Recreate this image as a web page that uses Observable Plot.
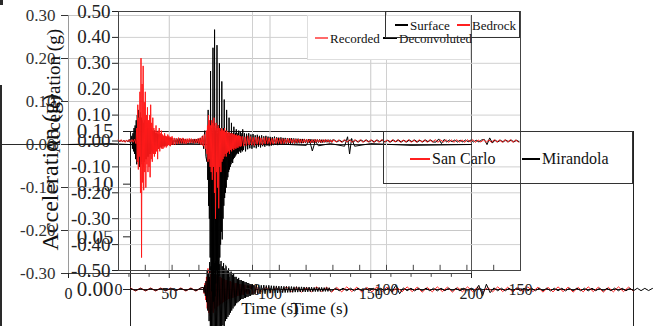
<!DOCTYPE html>
<html><head><meta charset="utf-8">
<script src="https://cdn.jsdelivr.net/npm/d3@7"></script>
<script src="https://cdn.jsdelivr.net/npm/@observablehq/plot@0.6"></script>
<style>
body{margin:0;background:#fff;}
#wrap{position:relative;width:653px;height:326px;overflow:hidden;background:#fff;font-family:'Liberation Serif','Times New Roman',serif;}
#wrap svg{position:absolute;left:0;top:0;}
#wrap svg text{font-family:'Liberation Serif','Times New Roman',serif !important;}
.box{position:absolute;box-sizing:border-box;}
.sw{position:absolute;height:1.6px;}
.lt{position:absolute;white-space:nowrap;line-height:1;transform:translateY(-50%);color:#111;font-family:'Liberation Serif','Times New Roman',serif;}
.deco{position:absolute;background:#2a2a2a;}
</style></head><body><div id="wrap"></div>
<script>
// ---------- tick labels ----------
const aYTicks = [-0.3, -0.2, -0.1, 0, 0.1, 0.2, 0.3];
const aXTicks = [0, 50, 100, 150, 200];
const aXMinor = [10, 20, 30, 40, 60, 70, 80, 90, 110, 120, 130, 140, 160, 170, 180, 190];
const aXGrid = [50, 100, 150];
const bYTicks = [-0.5, -0.4, -0.3, -0.2, -0.1, 0, 0.1, 0.2, 0.3, 0.4, 0.5];
const bXTicks = [0, 50, 100, 150];
const bXMinor = [10, 20, 30, 40, 50, 60, 70, 80, 90, 100, 110, 120, 130, 140];
const bXGrid = [50, 100];
const cYTicks = [0, 0.05, 0.1, 0.15];

// ---------- legend categories ----------
const recLabels = ["Recorded", "Deconvoluted"];
const recColors = ["#ff6a6a", "#000"];
const surfLabels = ["Surface", "Bedrock"];
const surfColors = ["#000", "#ff2020"];
const siteLabels = ["San Carlo", "Mirandola"];
const siteColors = ["#ff2020", "#000"];

// ---------- series: sampled acceleration (g); each segment = start time, sample step, read values ----------
// Chart A – Deconvoluted (explicit time, value pairs)
const deconvoluted = [[0,0],[20,0.002],[40,-0.002],[60,0.002],[80,-0.002],[100,0.002],[118,-0.002],[119.5,0.012],[121,-0.015],[122.5,0.008],[124,-0.003],[130,0.002],[137,-0.004],[138.5,0.018],[139.5,-0.022],[140.5,0.014],[142,-0.004],[150,0.002],[170,-0.002],[200,0]];

// Chart B – Bedrock (red)
const bedrockPre   = [0.004,-0.003,0.005,-0.004,0.003,-0.005,0.004,-0.003,0.005,-0.004,0.006,-0.005,0.007,-0.01];
const bedrockEv1   = [0.05,-0.08,0.14,-0.11,0.09,-0.06,0.19,-0.2,0.32,-0.45,0.22,-0.16,0.29,-0.19,0.15,-0.12,0.19,-0.18,0.1,-0.09,0.13,-0.12,0.08,-0.1,0.1,-0.14,0.14,-0.07,0.07,-0.08,0.09,-0.05,0.05,-0.06,0.04,-0.05,0.06,-0.04,0.035,-0.07,0.04,-0.03,0.05,-0.04,0.03,-0.025,0.04,-0.03,0.025,-0.03,0.02,-0.025,0.03,-0.02,0.02,-0.025,0.018,-0.02,0.025,-0.015,0.02,-0.018,0.015,-0.02,0.016,-0.014,0.018];
const bedrockCoda1 = [-0.015,0.012,-0.014,0.01,-0.012,0.013,-0.01,0.011,-0.009,0.012,-0.01,0.008,-0.011,0.009,-0.008,0.01,-0.007,0.009,-0.008,0.007,-0.009,0.008,-0.007,0.009,-0.01,0.012,-0.015,0.018,-0.02,0.025,-0.03];
const bedrockEv2   = [0.04,-0.05,0.06,-0.08,0.1,-0.07,0.08,-0.1,0.06,-0.12,0.08,-0.15,0.07,-0.1,0.09,-0.2,0.06,-0.3,0.07,-0.12,0.05,-0.18,0.06,-0.26,0.05,-0.1,0.04,-0.12,0.05,-0.08,0.045,-0.07,0.04,-0.06,0.05,-0.05,0.035,-0.06,0.04,-0.045,0.03,-0.04,0.035,-0.05,0.03,-0.035,0.028,-0.04,0.03,-0.03,0.025,-0.035,0.027,-0.028,0.022,-0.03,0.025,-0.025,0.02,-0.026,0.022,-0.02,0.02,-0.022,0.018,-0.02];
const bedrockCoda2 = [0.018,-0.02,0.016,-0.018,0.02,-0.015,0.017,-0.016,0.014,-0.018,0.015,-0.013,0.016,-0.014,0.012,-0.015,0.013,-0.012,0.014,-0.011,0.012,-0.013,0.01,-0.012,0.011,-0.01,0.012,-0.009,0.01,-0.011,0.009,-0.01,0.008,-0.009,0.01,-0.008,0.009,-0.008,0.007,-0.009,0.008,-0.007,0.008,-0.007,0.006,-0.008,0.007,-0.006,0.007,-0.006,0.006,-0.007,0.005,-0.006,0.006,-0.005,0.006,-0.005,0.005,-0.006,0.005,-0.005,0.006,-0.004,0.005,-0.005,0.004,-0.005];
const bedrockTail  = [0.005,-0.004,0.004,-0.005,0.005,-0.004,0.004,-0.005,0.005,-0.004,0.005,-0.005,0.004,-0.004,0.005,-0.005,0.004,-0.005,0.005,-0.004,0.004,-0.005,0.005,-0.004,0.005,-0.005,0.004,-0.004,0.005,-0.005,0.004,-0.005,0.005,-0.004,0.004,-0.005,0.005,-0.004,0.005,-0.005,0.004,-0.004,0.005,-0.005,0.004,-0.005,0.005,-0.004,0.004,-0.005,0.005,-0.004,0.005,-0.005,0.004,-0.004,0.005,-0.005,0.004,-0.005,0.005,-0.004,0.004,-0.005,0.005,-0.004,0.005,-0.005,0.004,-0.004];

// Chart B – Surface (black)
const surfacePre   = [0.003,-0.003,0.004,-0.003,0.003,-0.004,0.003,-0.004,0.006,-0.01];
const surfaceEv1   = [0.02,-0.03,0.03,-0.04,0.05,-0.05,0.06,-0.07,0.08,-0.09,0.1,-0.08,0.12,-0.1,0.09,-0.1,0.11,-0.08,0.09,-0.09,0.08,-0.1,0.07,-0.08,0.08,-0.07,0.06,-0.07,0.07,-0.06,0.05,-0.06,0.06,-0.05,0.045,-0.05,0.05,-0.04,0.04,-0.045,0.035,-0.04,0.04,-0.035,0.03,-0.035,0.03,-0.03,0.028,-0.03,0.025,-0.028,0.025,-0.022,0.022,-0.025,0.02,-0.02,0.02,-0.018,0.018,-0.02,0.016,-0.017,0.015,-0.016,0.015,-0.014,0.014,-0.015,0.012,-0.013,0.012,-0.012,0.011,-0.012];
const surfaceCoda1 = [0.011,-0.01,0.01,-0.011,0.009,-0.01,0.01,-0.009,0.008,-0.009,0.009,-0.008,0.008,-0.009,0.007,-0.008,0.008,-0.007,0.007,-0.008,0.008,-0.007,0.007,-0.008,0.009,-0.01,0.012,-0.015,0.02,-0.03,0.04,-0.06];
const surfaceEv2   = [-0.08,0.04,-0.15,0.12,-0.25,0.05,-0.3,0.02,-0.45,0.27,-0.5,0.05,-0.58,0.03,-0.55,0.36,-0.62,0.05,-0.5,0.43,-0.6,0.04,-0.55,0.05,-0.5,0.37,-0.58,0.03,-0.48,0.06,-0.52,0.3,-0.45,0.04,-0.4,0.05,-0.35,0.23,-0.38,0.03,-0.3,0.05,-0.25,0.16,-0.22,0.03,-0.2,0.04,-0.18,0.12,-0.15,0.03,-0.14,0.02,-0.12,0.09,-0.11,0.02,-0.1,0.03,-0.09,0.07,-0.08,0.02,-0.085,0.03,-0.07,0.055,-0.065,0.02,-0.06,0.03,-0.055,0.045,-0.05,0.02,-0.045,0.03,-0.05,0.04,-0.04,0.02,-0.04,0.035,-0.045,0.02,-0.035,0.03,-0.04,0.045];
const surfaceCoda2 = [-0.035,0.03,-0.04,0.028,-0.032,0.03,-0.028,0.025,-0.03,0.027,-0.025,0.022,-0.028,0.024,-0.022,0.02,-0.025,0.022,-0.02,0.018,-0.022,0.02,-0.018,0.017,-0.02,0.016,-0.018,0.015,-0.016,0.017,-0.015,0.014,-0.016,0.013,-0.014,0.014,-0.013,0.012,-0.013,0.012,-0.012,0.011,-0.012,0.01,-0.011,0.011,-0.01,0.01,-0.01,0.009,-0.01,0.009,-0.009,0.008,-0.009,0.008,-0.008,0.008,-0.008,0.007,-0.008,0.007,-0.007,0.007,-0.007,0.006,-0.007,0.006,-0.006,0.006,-0.006,0.006,-0.006,0.005,-0.006,0.005,-0.005,0.005,-0.005,0.005,-0.005,0.005,-0.005,0.004];
const surfaceTail  = [0.004,-0.004,0.003,-0.004,0.004,-0.003,0.004,-0.004,0.003,-0.004,0.004,-0.003,0.004,-0.004,0.003,-0.004,0.004,-0.003,0.004,-0.004,0.003,-0.004,0.004,-0.003,0.004,-0.004,0.003,-0.004,0.004,-0.003,0.004,-0.004,0.003,-0.004,0.004,-0.003,0.004,-0.004,-0.004,0.008,-0.01,0.006,-0.004,0.004,-0.003,0.004,-0.004,0.003,-0.004,0.004,-0.003,0.004,-0.004,0.003,-0.004,0.004,0.006,-0.014,0.012,-0.008,0.004,-0.004,0.003,-0.004,0.004,-0.003,0.004,-0.004,0.003,-0.003];

// Chart C – Mirandola (black)
const mirandolaPre  = [0.001,-0.001,0.001,-0.001,0.001,-0.001,0.001,-0.001,0.001,-0.001,0.001,-0.001,0.001,-0.0012,0.0015];
const mirandolaEv   = [0.002,-0.003,0.004,-0.006,0.008,-0.012,0.018,-0.02,0.015,-0.03,0.026,-0.042,0.022,-0.038,0.03,-0.05,0.032,-0.045,0.025,-0.05,0.027,-0.046,0.022,-0.04,0.028,-0.042,0.024,-0.038,0.027,-0.04,0.022,-0.034,0.025,-0.035,0.02,-0.03,0.022,-0.028,0.018,-0.026,0.02,-0.024,0.016,-0.022,0.017,-0.02,0.014,-0.018,0.015,-0.016,0.012,-0.015,0.012,-0.013,0.01,-0.012,0.011,-0.011,0.009,-0.01,0.009,-0.009,0.008,-0.009,0.008,-0.008,0.007,-0.008,0.007,-0.007,0.006,-0.007,0.006,-0.006,0.005,-0.006,0.005,-0.005,0.005,-0.005,0.004];
const mirandolaCoda = [-0.0045,0.005,-0.004,0.0045,-0.0042,0.004,-0.0038,0.0042,-0.004,0.0038,-0.0036,0.004,-0.0035,0.0036,-0.0034,0.0035,-0.0032,0.0034,-0.0033,0.0032,-0.003,0.0032,-0.003,0.003,-0.0029,0.003,-0.0028,0.0029,-0.0027,0.0028,-0.0027,0.0026,-0.0025,0.0027,-0.0025,0.0025,-0.0024,0.0025,-0.0023,0.0024,-0.0023,0.0022,-0.0022,0.0023,-0.0021,0.0022,-0.0021,0.002,-0.002,0.0021,-0.002,0.002,-0.0019,0.002,-0.0019,0.0018,-0.0018,0.0019,-0.0018,0.0017,-0.0017];
const mirandolaTail = [-0.0013,0.0012,-0.0012,0.0013,-0.0012,0.0012,-0.0013,0.0012,-0.0012,0.0013,-0.0012,0.0012,-0.0013,0.0012,-0.0012,0.0013,-0.002,0.004,-0.004,0.0015,-0.0012,0.0012,-0.0013,0.0012,-0.0012,0.0013,-0.0012,0.0012,-0.0013,0.0012,-0.0012,0.0013,-0.0012,0.0012,-0.0013,0.0012,-0.0012,0.0013,-0.002,0.004,-0.006,0.005,-0.003,0.0015,-0.0012,0.0012,-0.0013,0.0012,-0.0012,0.0013,-0.0012,0.0012,-0.0013,0.0012,-0.0012,0.0013,-0.0012,0.0012,-0.0013,0.0012,-0.0012,0.0012,-0.0013,0.0012,-0.0012,0.0013,-0.0012,0.0012,-0.0013,0.0012,-0.0012,0.0012,-0.0013,0.0012,-0.0012,0.0013,-0.0012,0.0012,-0.0013,0.0012,-0.0012,0.0012,-0.0011,0.0011,-0.001,0.001,-0.001];

// Chart C – San Carlo (red)
const sanCarloPre  = [0.0015,-0.0015,0.0015,-0.0015,0.0015,-0.0015,0.0015,-0.0015,0.0015,-0.0015,0.0015,-0.0015,0.0015,-0.0015,0.0015];
const sanCarloEv   = [0.002,-0.004,0.006,-0.01,0.012,-0.018,0.02,-0.022,0.018,-0.025,0.02,-0.02,0.016,-0.022,0.018,-0.018,0.015,-0.02,0.014,-0.016,0.013,-0.015,0.012,-0.014,0.011,-0.013,0.01,-0.012,0.01,-0.011,0.009,-0.01,0.009,-0.009,0.008,-0.009,0.008,-0.008,0.007,-0.008,0.007,-0.007,0.006,-0.007,0.006,-0.006,0.006,-0.006,0.005,-0.006,0.005,-0.005,0.005,-0.005,0.0045,-0.005,0.0045,-0.0045,0.004,-0.0045,0.004,-0.004,0.004,-0.004,0.0035,-0.004,0.0035,-0.0035,0.0035,-0.0035];
const sanCarloTail = [0.0025,-0.002,0.0022,-0.0025,0.002,-0.0022,0.0025,-0.002,0.0022,-0.0025,0.002,-0.0022,0.0025,-0.002,0.0022,-0.0025,0.002,-0.0022,0.0025,-0.002,0.0022,-0.0025,0.002,-0.0022,0.0025,-0.002,0.0022,-0.0025,0.002,-0.0022,0.0025,-0.002,0.0022,-0.0025,0.002,-0.0022,0.0025,-0.002,0.0022,-0.0025,0.002,-0.0022,0.0025,-0.002,0.0022,-0.0025,0.002,-0.0022,0.0025,-0.002,0.0022,-0.0025,0.002,-0.0022,0.0025,-0.002,0.0022,-0.0025,0.002,-0.0022,0.0025,-0.002,0.0022,-0.0025,0.002,-0.0022,0.0025,-0.002,0.0022,-0.0025,0.002,-0.0022,0.0025,-0.002,0.0022,-0.0015];

// sample grid: [segment values, start time (s), sample step (s)]
const seg = (vals, t0, dt) => vals.map((v, i) => [t0 + i * dt, v]);
const bedrock = [...seg(bedrockPre, 0, 0.5), ...seg(bedrockEv1, 6.8, 0.2), ...seg(bedrockCoda1, 20.4, 0.4), ...seg(bedrockEv2, 32.8, 0.2), ...seg(bedrockCoda2, 46.2, 0.5), ...seg(bedrockTail, 80.2, 1)];
const surface = [...seg(surfacePre, 0, 0.5), ...seg(surfaceEv1, 5, 0.2), ...seg(surfaceCoda1, 20.2, 0.4), ...seg(surfaceEv2, 33, 0.15), ...seg(surfaceCoda2, 46.6, 0.4), ...seg(surfaceTail, 80.5, 1)];
const mirandola = [...seg(mirandolaPre, 0, 2), ...seg(mirandolaEv, 29, 0.25), ...seg(mirandolaCoda, 49.5, 0.5), ...seg(mirandolaTail, 80, 1.5)];
const sanCarlo = [...seg(sanCarloPre, 0, 2), ...seg(sanCarloEv, 29, 0.3), ...seg(sanCarloTail, 50, 2)];

// ---------- layout / style ----------
const FONT = "'Liberation Serif','Times New Roman',serif";
const fmt2 = d => d.toFixed(2);
const wrap = document.getElementById("wrap");
const gx = d => d[0], gy = d => d[1];

// Chart C (back): San Carlo / Mirandola
const chartC = Plot.plot({
  width: 653, height: 487,
  marginLeft: 130, marginRight: 20, marginTop: 131, marginBottom: 40,
  x: {domain: [0, 200], axis: null},
  y: {domain: [-0.15, 0.15]},
  style: {background: "transparent", fontFamily: FONT, fontSize: "21px", color: "#111"},
  marks: [
    Plot.ruleY([0.15], {stroke: "#222"}),
    Plot.ruleX([0, 200], {stroke: "#222"}),
    Plot.ruleY([0], {stroke: "#222"}),
    Plot.axisY(cYTicks, {tickFormat: fmt2, tickSize: 7, tickPadding: 10, fontSize: 21, label: null, color: "#222"}),
    Plot.line(sanCarlo, {x: gx, y: gy, stroke: "#ff2020", strokeWidth: 1}),
    Plot.line(mirandola, {x: gx, y: gy, stroke: "#000", strokeWidth: 1}),
    Plot.text(["Acceleration (g)"], {frameAnchor: "left", rotate: -90, dx: -80, dy: -39, fontSize: 24, fill: "#111"})
  ]
});

// Chart A (middle): Recorded / Deconvoluted
const chartA = Plot.plot({
  width: 653, height: 326,
  marginLeft: 68, marginRight: 182, marginTop: 15, marginBottom: 53,
  x: {domain: [0, 200]},
  y: {domain: [-0.3, 0.3]},
  style: {background: "transparent", fontFamily: FONT, fontSize: "17px", color: "#222"},
  marks: [
    Plot.gridY(aYTicks, {stroke: "#c8c8c8", strokeOpacity: 1}),
    Plot.gridX(aXGrid, {stroke: "#c8c8c8", strokeOpacity: 1}),
    Plot.ruleX([0], {stroke: "#9a9a9a"}),
    Plot.ruleX([200], {stroke: "#555"}),
    Plot.ruleY([-0.3], {stroke: "#444"}),
    Plot.ruleY([0], {stroke: "#333"}),
    Plot.ruleX(aXMinor, {y1: -0.3, y2: -0.309, stroke: "#444"}),
    Plot.axisY(aYTicks, {tickFormat: fmt2, tickSize: 7, tickPadding: 6, fontSize: 17, label: null, color: "#333"}),
    Plot.axisX(aXTicks, {tickSize: 5, tickPadding: 9, fontSize: 16, label: null, color: "#222"}),
    Plot.line(deconvoluted, {x: gx, y: gy, stroke: "#000", strokeWidth: 1}),
    Plot.text(["Time (s)"], {frameAnchor: "bottom", dy: 40, fontSize: 17, fill: "#111"})
  ]
});

// Chart B (front): Surface / Bedrock
const chartB = Plot.plot({
  width: 653, height: 326,
  marginLeft: 118, marginRight: 133, marginTop: 11, marginBottom: 56,
  x: {domain: [0, 150]},
  y: {domain: [-0.5, 0.5]},
  style: {background: "transparent", fontFamily: FONT, fontSize: "19px", color: "#222"},
  marks: [
    Plot.gridY(bYTicks.filter(d => Math.abs(d) < 0.5), {stroke: "#d0d0d0", strokeOpacity: 1}),
    Plot.gridX(bXGrid, {stroke: "#d0d0d0", strokeOpacity: 1}),
    Plot.frame({stroke: "#444"}),
    Plot.ruleX(bXMinor, {y1: -0.5, y2: -0.48, stroke: "#444"}),
    Plot.axisY(bYTicks, {tickFormat: fmt2, tickSize: 6, tickPadding: 2, fontSize: 19, label: null, color: "#222"}),
    Plot.axisX(bXTicks, {tickSize: 0, tickPadding: 13, fontSize: 16, label: null, color: "#222"}),
    Plot.line(surface, {x: gx, y: gy, stroke: "#000", strokeWidth: 1}),
    Plot.line(bedrock, {x: gx, y: gy, stroke: "#ff1a1a", strokeWidth: 1}),
    Plot.text(["Time (s)"], {frameAnchor: "bottom", dy: 43, fontSize: 17, fill: "#111"}),
    Plot.text(["Acceleration (g)"], {frameAnchor: "left", rotate: -90, dx: -65, dy: 12, fontSize: 19, fill: "#111"})
  ]
});

wrap.append(chartC, chartA, chartB);

// ---------- legends (HTML overlays) ----------
const legendLayout = [
  {labels: recLabels, colors: recColors, box: [307, 15, 164, 45], css: "border:1px solid #dedede;background:#fff;", items: [[315, 328, 330], [383, 397, 399]], cy: 37, font: 13},
  {labels: surfLabels, colors: surfColors, box: [385, 11, 135, 27], css: "border:1.4px solid #333;", items: [[395, 408, 410], [457, 470, 472]], cy: 24, font: 13},
  {labels: siteLabels, colors: siteColors, box: [383, 131, 250, 53], css: "border:1.2px solid #333;", items: [[410, 430, 432], [522, 540, 542]], cy: 158, font: 16}
];
for (const L of legendLayout) {
  const b = document.createElement("div");
  b.className = "box";
  b.style.cssText = `left:${L.box[0]}px;top:${L.box[1]}px;width:${L.box[2]}px;height:${L.box[3]}px;` + L.css;
  wrap.append(b);
  L.labels.forEach((lab, i) => {
    const [s0, s1, tx] = L.items[i];
    const sw = document.createElement("div");
    sw.className = "sw";
    sw.style.cssText = `left:${s0}px;width:${s1 - s0}px;top:${L.cy}px;background:${L.colors[i]};`;
    const t = document.createElement("span");
    t.className = "lt";
    t.style.cssText = `left:${tx}px;top:${L.cy + 1}px;font-size:${L.font}px;`;
    t.textContent = lab;
    wrap.append(sw, t);
  });
}
// stray frame edges at the far left of the composite
["left:0;top:0;width:3px;height:5px", "left:0;top:85px;width:2px;height:241px", "left:0;top:144px;width:60px;height:1px"]
  .forEach(c => { const d = document.createElement("div"); d.className = "deco"; d.style.cssText = c; wrap.append(d); });
</script></body></html>
